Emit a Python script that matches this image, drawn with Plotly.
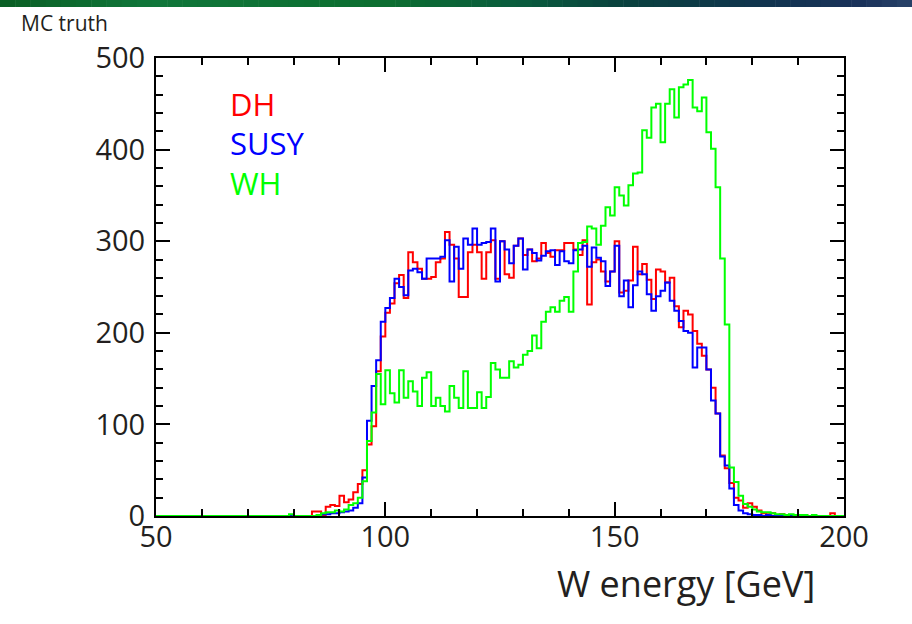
import numpy as np
import plotly.graph_objects as go

# ---------------- data ----------------
E_MIN, E_MAX, BIN_W = 50, 200, 1  # W energy histogram range [GeV], 1 GeV bins

# counts per bin, rows of 10 bins starting at 50 GeV
dh_counts = [
    0, 0, 0, 0, 0, 0, 0, 0, 0, 0,
    0, 0, 0, 0, 0, 0, 0, 0, 0, 0,
    0, 0, 0, 0, 0, 0, 0, 0, 0, 0,
    0, 0, 0, 0, 5, 5, 1, 10, 12, 11,
    22, 15, 18, 26, 35, 50, 78, 98, 158, 196,
    222, 232, 254, 263, 238, 288, 277, 270, 259, 259,
    261, 277, 281, 310, 296, 281, 239, 239, 288, 296,
    288, 259, 288, 301, 259, 300, 264, 260, 295, 303,
    285, 291, 278, 281, 298, 287, 283, 290, 290, 298,
    298, 291, 285, 301, 231, 277, 280, 267, 256, 267,
    300, 244, 246, 257, 294, 264, 275, 258, 237, 269,
    267, 255, 260, 229, 206, 224, 220, 202, 188, 175,
    160, 140, 112, 66, 52, 36, 20, 17, 9, 14,
    10, 6, 3, 2, 3, 1, 2, 1, 0, 1,
    0, 1, 0, 0, 0, 0, 0, 3, 0, 0,
]

susy_counts = [
    0, 0, 0, 0, 0, 0, 0, 0, 0, 0,
    0, 0, 0, 0, 0, 0, 0, 0, 0, 0,
    0, 0, 0, 0, 0, 0, 0, 0, 0, 1,
    0, 0, 0, 0, 0, 0, 2, 2, 3, 3,
    4, 5, 6, 9, 14, 42, 104, 142, 170, 212,
    227, 238, 259, 250, 241, 268, 270, 266, 259, 281,
    281, 281, 283, 301, 256, 294, 270, 303, 296, 314,
    296, 298, 299, 314, 256, 300, 291, 276, 295, 303,
    269, 291, 287, 279, 284, 289, 290, 274, 289, 278,
    276, 290, 291, 295, 272, 293, 282, 278, 251, 267,
    295, 240, 257, 228, 252, 267, 264, 242, 224, 240,
    246, 255, 235, 224, 213, 202, 200, 162, 184, 184,
    160, 126, 112, 65, 55, 30, 12, 6, 3, 2,
    1, 1, 0, 1, 0, 0, 0, 0, 0, 0,
    0, 0, 0, 0, 0, 0, 0, 0, 0, 0,
]

wh_counts = [
    0, 0, 0, 0, 0, 0, 0, 0, 0, 0,
    0, 0, 0, 0, 0, 0, 0, 0, 0, 0,
    0, 0, 0, 0, 0, 0, 0, 0, 0, 2,
    0, 0, 0, 0, 0, 1, 3, 4, 4, 6,
    5, 7, 12, 14, 20, 38, 82, 113, 155, 122,
    159, 134, 124, 159, 129, 147, 136, 120, 151, 157,
    120, 129, 120, 114, 142, 129, 118, 158, 118, 118,
    135, 118, 130, 167, 160, 151, 151, 169, 162, 165,
    176, 180, 197, 183, 212, 223, 228, 223, 235, 239,
    223, 267, 298, 299, 316, 314, 296, 317, 337, 328,
    359, 350, 339, 361, 374, 375, 421, 413, 446, 450,
    408, 450, 466, 435, 468, 471, 476, 446, 442, 457,
    419, 401, 359, 281, 209, 53, 37, 22, 13, 10,
    7, 5, 4, 4, 3, 2, 2, 1, 2, 1,
    1, 1, 0, 1, 0, 0, 0, 0, 0, 0,
]

series_names = ["DH", "SUSY", "WH"]
series_colors = ["#ff0000", "#0000ff", "#00ff00"]
x_tick_vals = [50, 100, 150, 200]
y_tick_vals = [0, 100, 200, 300, 400, 500]
x_title = "W energy [GeV]"
corner_note = "MC truth"

# ---------------- figure ----------------
edges = np.arange(E_MIN, E_MAX + BIN_W, BIN_W)

fig = go.Figure()
for name, counts, color in zip(series_names, [dh_counts, susy_counts, wh_counts], series_colors):
    y = list(counts) + [counts[-1]]
    fig.add_trace(go.Scatter(
        x=edges, y=y, mode="lines", name=name,
        line=dict(shape="hv", width=2, color=color),
        showlegend=False, hoverinfo="skip",
    ))

W, H = 912, 624
L, R, T, B = 156, 68, 58, 108
PW, PH = W - L - R, H - T - B

def px_to_paper(px, py):
    return (px - L) / PW, (H - B - py) / PH

text_color = "#231f20"
font_family = "Open Sans, DejaVu Sans, sans-serif"

axis_common = dict(
    showgrid=False, zeroline=False,
    showline=True, linecolor="black", linewidth=2, mirror="ticks",
    ticks="inside", ticklen=14, tickwidth=1.5, tickcolor="black",
)

fig.update_xaxes(
    range=[E_MIN, E_MAX], tickmode="array", tickvals=x_tick_vals,
    minor=dict(ticks="inside", ticklen=7, tickwidth=1.5, tickcolor="black", dtick=10),
    ticklabelstandoff=-6,
    tickfont=dict(family=font_family, size=29, color=text_color),
    **axis_common,
)
fig.update_yaxes(
    range=[0, 500], tickmode="array", tickvals=y_tick_vals,
    minor=dict(ticks="inside", ticklen=7, tickwidth=1.5, tickcolor="black", dtick=20),
    ticklabelstandoff=3,
    tickfont=dict(family=font_family, size=29, color=text_color),
    **axis_common,
)

annotations = []
# legend-like labels
for name, color, py in zip(series_names, series_colors, [104, 143, 183]):
    ax, ay = px_to_paper(228, py)
    annotations.append(dict(text=name, x=ax, y=ay, xref="paper", yref="paper",
                            xanchor="left", yanchor="middle", showarrow=False,
                            font=dict(family=font_family, size=31, color=color)))
# x axis title
tx, ty = px_to_paper(817, 583)
annotations.append(dict(text=x_title, x=tx, y=ty, xref="paper", yref="paper",
                        xanchor="right", yanchor="middle", showarrow=False,
                        font=dict(family=font_family, size=36, color=text_color)))
# corner note
mx, my = px_to_paper(19, 23)
annotations.append(dict(text=corner_note, x=mx, y=my, xref="paper", yref="paper",
                        xanchor="left", yanchor="middle", showarrow=False,
                        font=dict(family=font_family, size=21, color=text_color)))

# decorative gradient banner at top of the slide
stops = [(0, (10, 94, 36)), (150, (16, 118, 58)), (380, (12, 110, 48)),
         (520, (10, 92, 62)), (620, (10, 66, 62)), (760, (16, 52, 78)),
         (860, (26, 50, 90)), (912, (40, 66, 104))]
shapes = []
n_seg = 60
for i in range(n_seg):
    x0p = W * i / n_seg
    x1p = W * (i + 1) / n_seg
    xm = (x0p + x1p) / 2
    for (a, ca), (b, cb) in zip(stops[:-1], stops[1:]):
        if a <= xm <= b:
            t = (xm - a) / (b - a)
            c = tuple(int(round(ca[k] + (cb[k] - ca[k]) * t)) for k in range(3))
            break
    px0, py0 = px_to_paper(x0p, 0)
    px1, py1 = px_to_paper(x1p + 0.5, 7)
    shapes.append(dict(type="rect", xref="paper", yref="paper",
                       x0=px0, x1=px1, y0=py1, y1=py0,
                       fillcolor="rgb(%d,%d,%d)" % c, line=dict(width=0), layer="above"))

fig.update_layout(
    width=W, height=H,
    margin=dict(l=L, r=R, t=T, b=B, pad=0),
    paper_bgcolor="white", plot_bgcolor="white",
    annotations=annotations, shapes=shapes,
    showlegend=False,
)

fig.write_html("out.html")
